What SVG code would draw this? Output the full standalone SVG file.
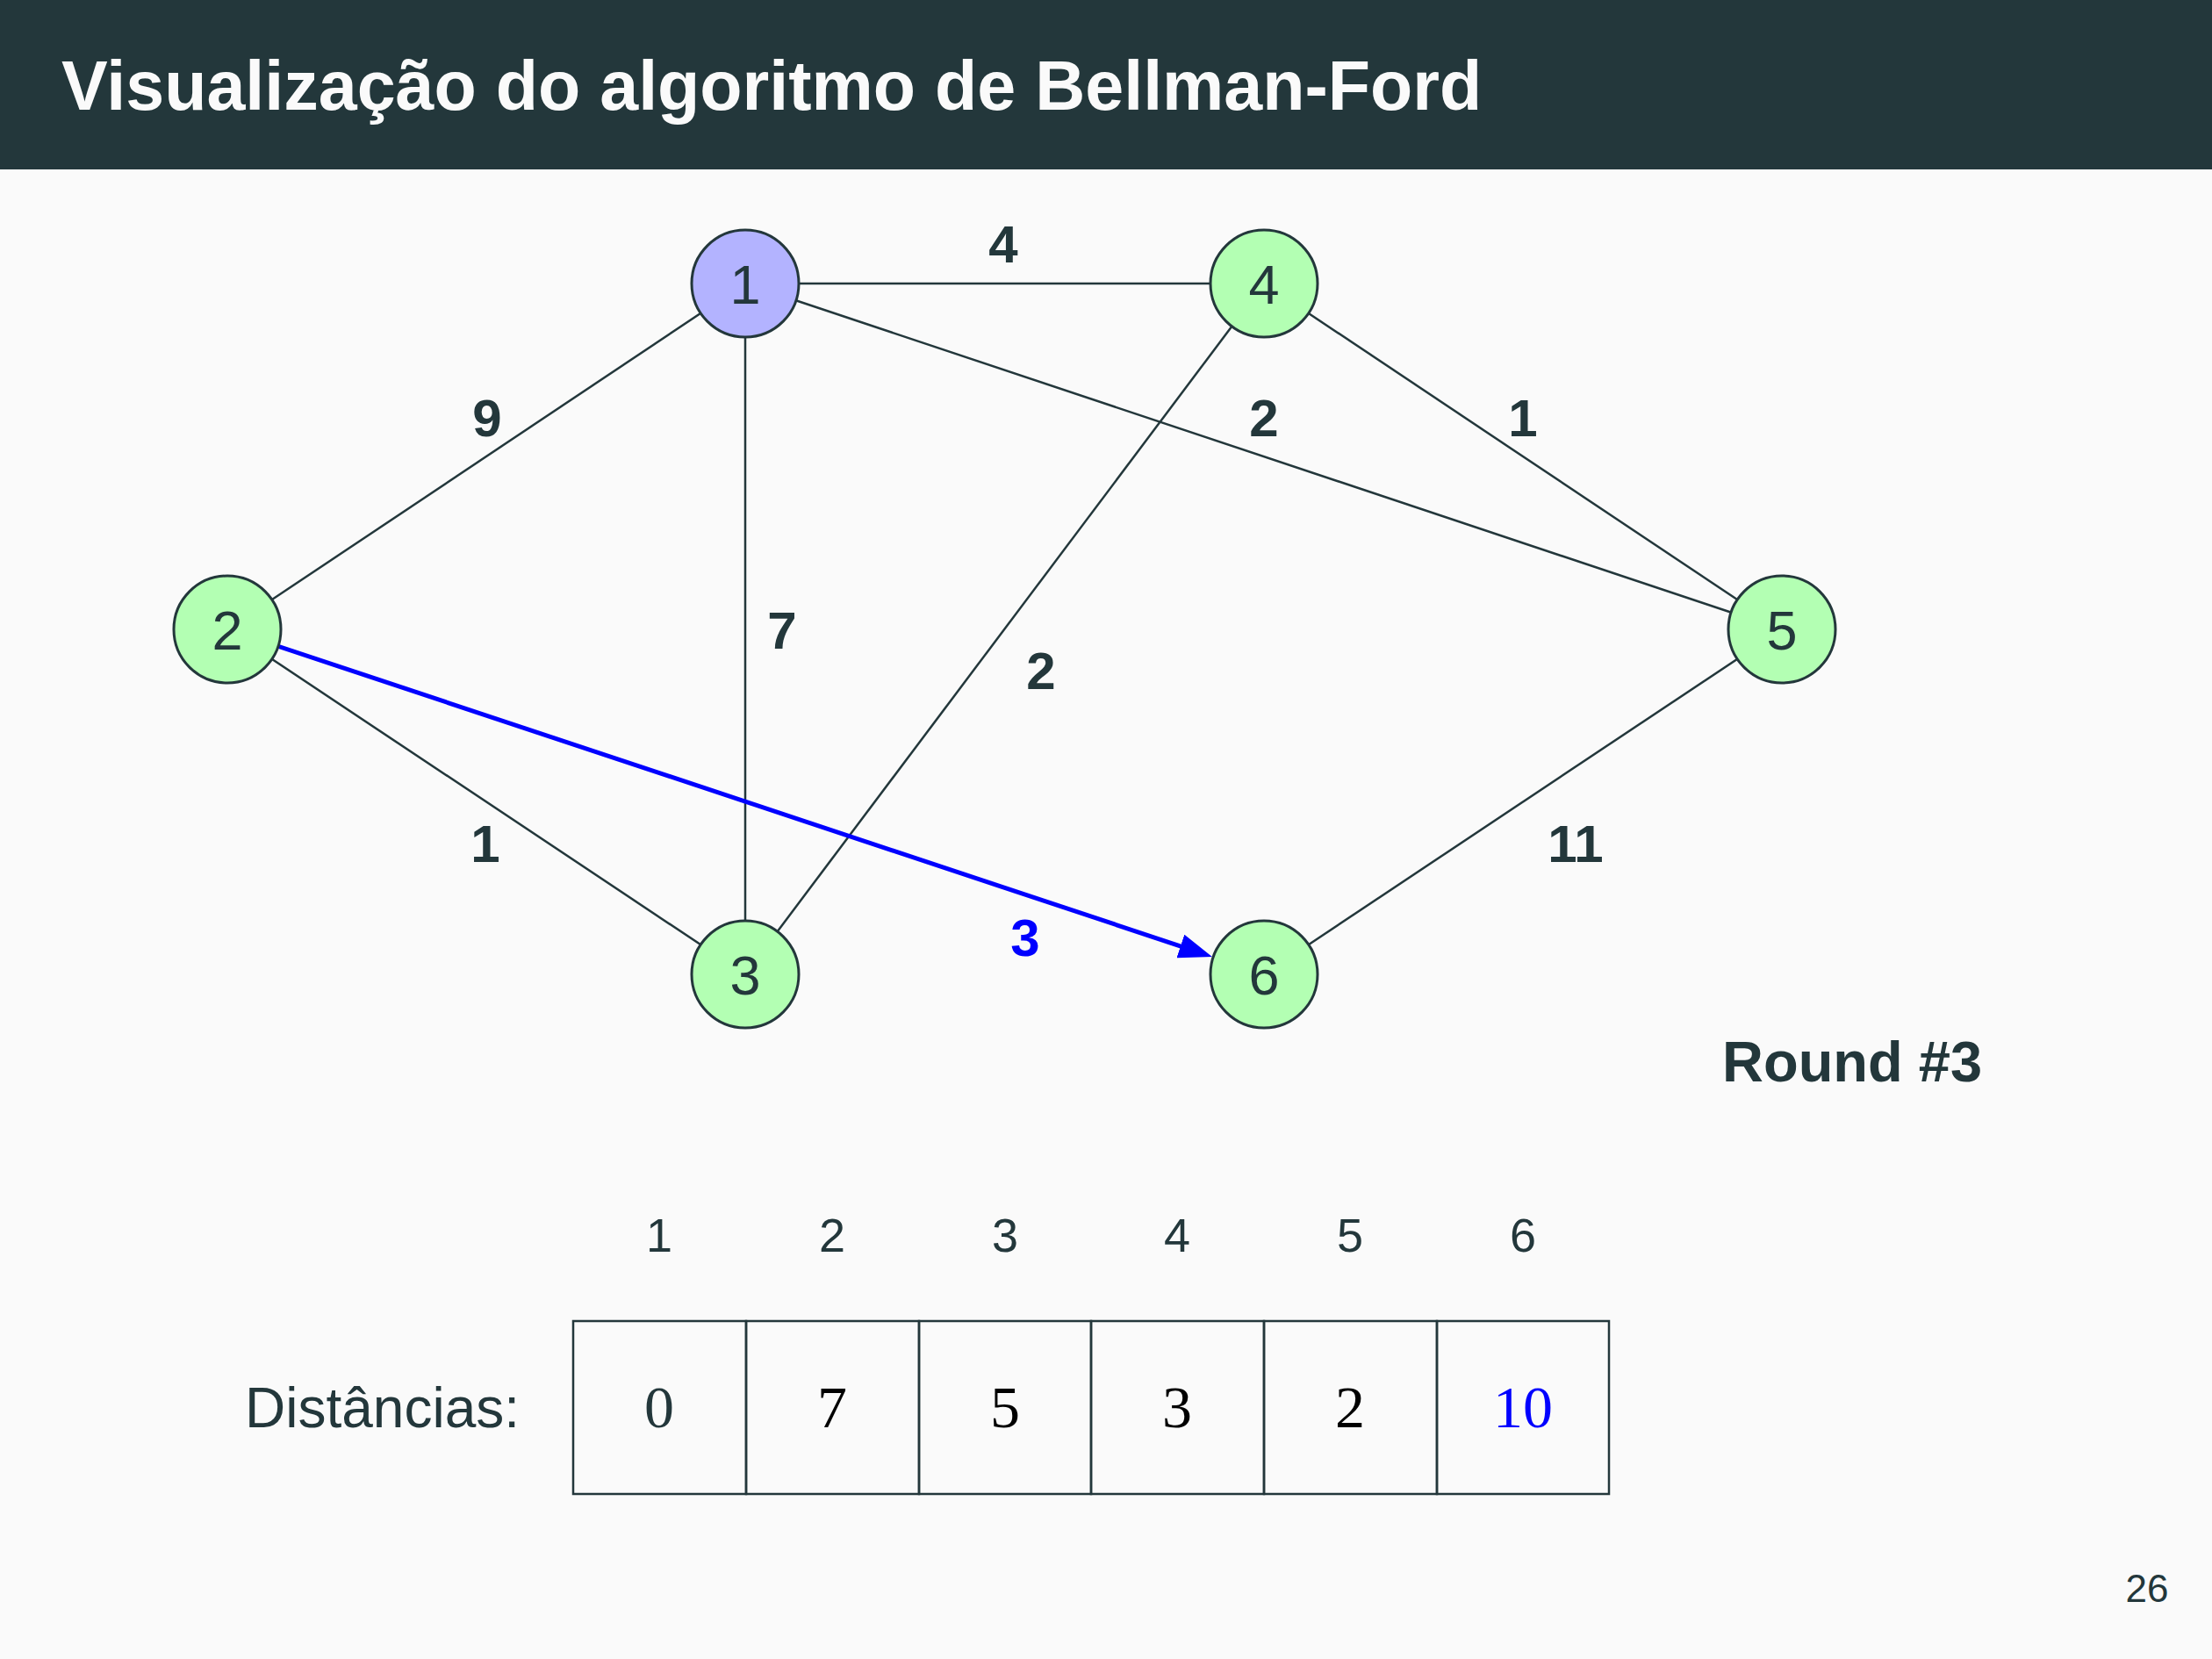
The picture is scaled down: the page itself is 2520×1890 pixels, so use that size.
<svg xmlns="http://www.w3.org/2000/svg" width="2520" height="1890" viewBox="0 0 2520 1890">
<style>
.bg{fill:#FAFAFA}
.hdr{fill:#23373B}
.title{font-family:"Liberation Sans",Arial,sans-serif;font-weight:bold;font-size:79px;fill:#FAFAFA}
.edge{stroke:#23373B;stroke-width:2.5;fill:none}
.hl{stroke:#0000FF;stroke-width:5;fill:none}
.node{stroke:#23373B;stroke-width:3}
.green{fill:#B3FFB3}
.blue{fill:#B3B3FF}
.nlab{font-family:"Liberation Sans",Arial,sans-serif;font-size:63px;fill:#23373B;text-anchor:middle}
.elab{font-family:"Liberation Sans",Arial,sans-serif;font-weight:bold;font-size:60px;fill:#23373B;text-anchor:middle}
.elabh{fill:#0000FF}
.txt{font-family:"Liberation Sans",Arial,sans-serif;fill:#23373B}
.cell{fill:none;stroke:#23373B;stroke-width:2.5}
.val{font-family:"Liberation Serif","Times New Roman",serif;font-size:68px;text-anchor:middle;fill:#000}
</style>
<defs>
<marker id="ah" viewBox="0 0 38 28" refX="2" refY="14" markerWidth="38" markerHeight="28" markerUnits="userSpaceOnUse" orient="auto">
<path d="M0,0 L38,14 L0,28 Z" fill="#0000FF"/>
</marker>
</defs>
<rect class="bg" x="0" y="0" width="2520" height="1890"/>
<rect class="hdr" x="0" y="0" width="2520" height="193"/>
<text class="title" x="70" y="125">Visualização do algoritmo de Bellman-Ford</text>

<g id="connectors">
<line class="edge" x1="849" y1="323" x2="1440" y2="323"/>
<line class="edge" x1="849" y1="323" x2="259" y2="717"/>
<line class="edge" x1="849" y1="323" x2="849" y2="1110"/>
<line class="edge" x1="849" y1="323" x2="2030" y2="717"/>
<line class="edge" x1="1440" y1="323" x2="849" y2="1110"/>
<line class="edge" x1="1440" y1="323" x2="2030" y2="717"/>
<line class="edge" x1="259" y1="717" x2="849" y2="1110"/>
<line class="edge" x1="2030" y1="717" x2="1440" y2="1110"/>
<line class="hl" x1="259" y1="717" x2="1346.8" y2="1078.6" marker-end="url(#ah)"/>
<text class="elab" x="1143" y="299">4</text>
<text class="elab" x="555" y="497">9</text>
<text class="elab" x="1440" y="497">2</text>
<text class="elab" x="1735" y="497">1</text>
<text class="elab" x="891" y="739">7</text>
<text class="elab" x="1186" y="785">2</text>
<text class="elab" x="553" y="982">1</text>
<text class="elab" x="1795" y="982">11</text>
<text class="elab elabh" x="1168" y="1089">3</text>
</g>

<g id="node1"><circle class="node blue" cx="849" cy="323" r="61"/><text class="nlab" x="849" y="346">1</text></g>
<g id="node2"><circle class="node green" cx="259" cy="717" r="61"/><text class="nlab" x="259" y="740">2</text></g>
<g id="node3"><circle class="node green" cx="849" cy="1110" r="61"/><text class="nlab" x="849" y="1133">3</text></g>
<g id="node4"><circle class="node green" cx="1440" cy="323" r="61"/><text class="nlab" x="1440" y="346">4</text></g>
<g id="node5"><circle class="node green" cx="2030" cy="717" r="61"/><text class="nlab" x="2030" y="740">5</text></g>
<g id="node6"><circle class="node green" cx="1440" cy="1110" r="61"/><text class="nlab" x="1440" y="1133">6</text></g>

<text class="txt" x="1962" y="1232" font-size="65" font-weight="bold">Round #3</text>

<g id="table">
<g class="txt" font-size="54" text-anchor="middle">
<text x="751" y="1426">1</text>
<text x="948" y="1426">2</text>
<text x="1145" y="1426">3</text>
<text x="1341" y="1426">4</text>
<text x="1538" y="1426">5</text>
<text x="1735" y="1426">6</text>
</g>
<text class="txt" x="592" y="1626" font-size="64" text-anchor="end">Distâncias:</text>
<rect class="cell" x="653" y="1505" width="197" height="197"/>
<rect class="cell" x="850" y="1505" width="197" height="197"/>
<rect class="cell" x="1047" y="1505" width="196" height="197"/>
<rect class="cell" x="1243" y="1505" width="197" height="197"/>
<rect class="cell" x="1440" y="1505" width="197" height="197"/>
<rect class="cell" x="1637" y="1505" width="196" height="197"/>
<text class="val" x="751" y="1626" fill="#23373B" style="fill:#23373B">0</text>
<text class="val" x="948" y="1626">7</text>
<text class="val" x="1145" y="1626">5</text>
<text class="val" x="1341" y="1626">3</text>
<text class="val" x="1538" y="1626">2</text>
<text class="val" x="1735" y="1626" style="fill:#0000FF">10</text>
</g>

<text class="txt" x="2446" y="1825" font-size="44" text-anchor="middle">26</text>
</svg>
